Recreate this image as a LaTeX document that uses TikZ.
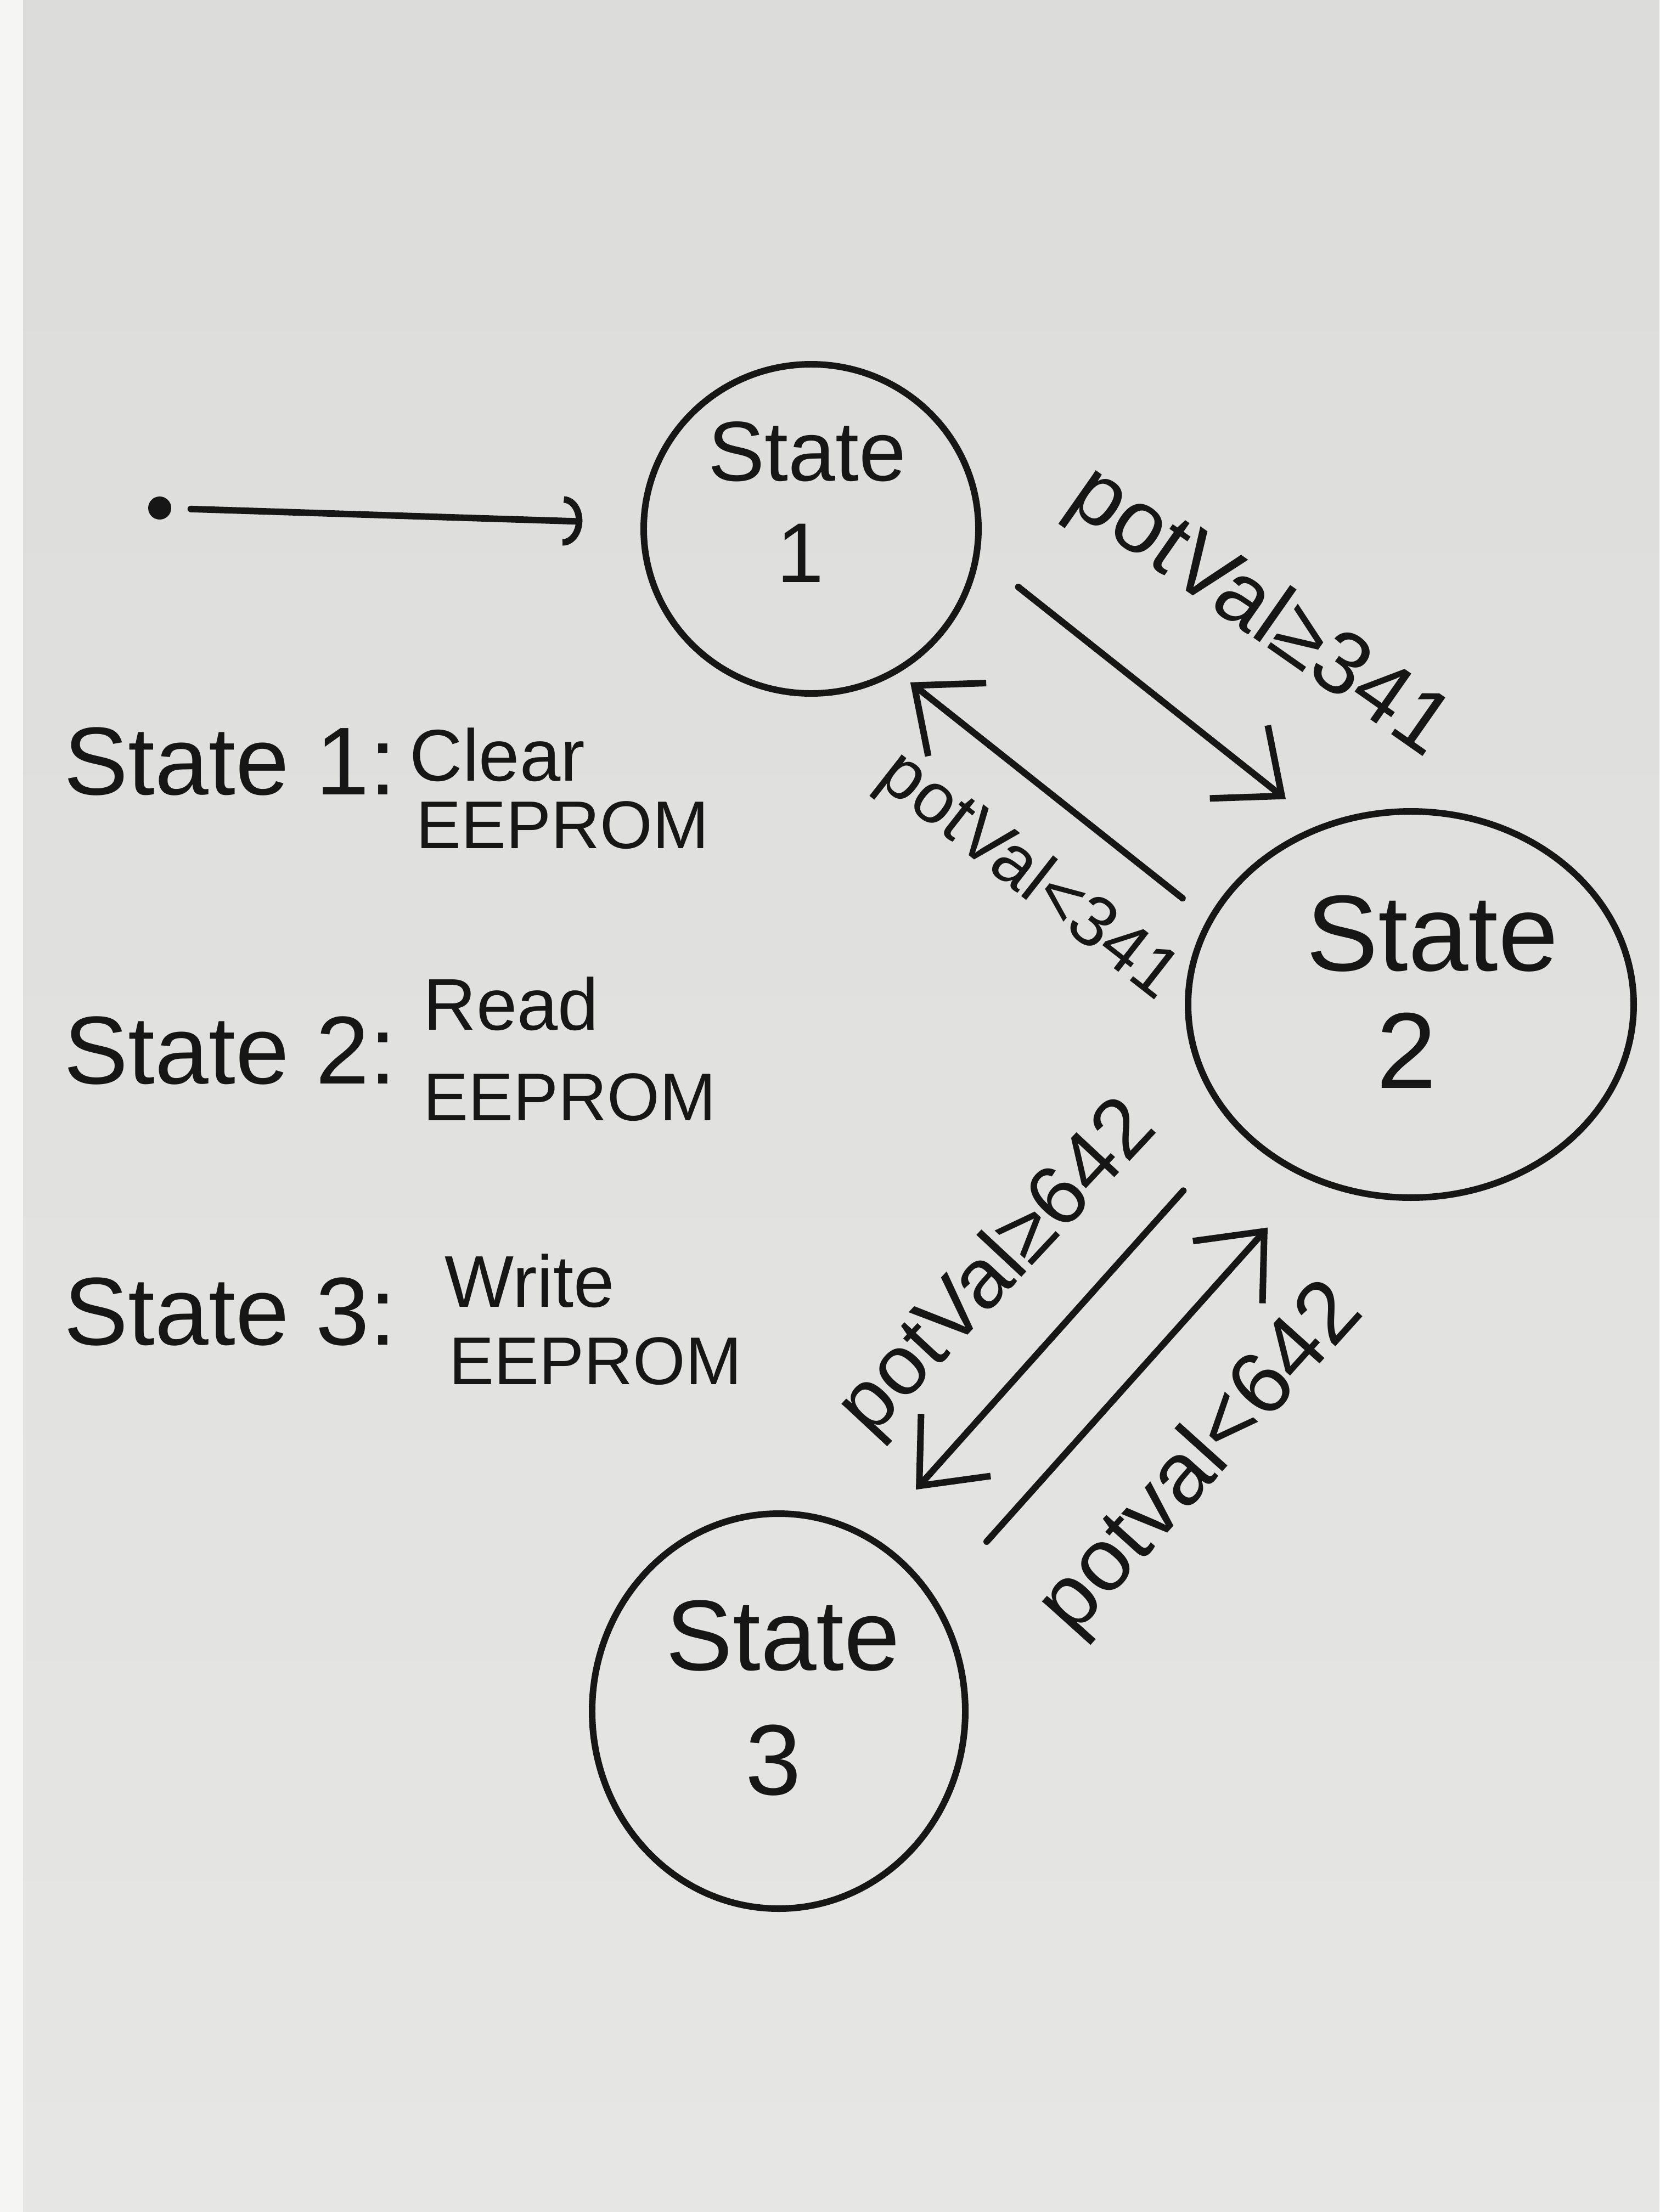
\documentclass[tikz,border=0pt]{standalone}
\usepackage{fontspec}
\setmainfont{Liberation Sans}
\usetikzlibrary{arrows.meta,shapes.geometric}
\definecolor{inkc}{HTML}{161616}
\definecolor{bgtop}{HTML}{DCDCDA}
\definecolor{bgbot}{HTML}{E6E6E4}
\begin{document}
\begin{tikzpicture}[x=1cm,y=1cm,
  ink/.style={draw=inkc, line width=3.4pt, line cap=round},
  st/.style={ellipse, draw=inkc, line width=3.4pt, inner sep=0pt},
  arr/.style={ink, -{Straight Barb[length=1.0cm,width=1.7cm,line width=3.4pt]}},
  txt/.style={text=inkc, inner sep=0pt},
  fa/.style={font=\fontsize{50}{60}\selectfont},
  fb/.style={font=\fontsize{38}{46}\selectfont},
  fc/.style={font=\fontsize{35}{42}\selectfont},
]
\shade[top color=bgtop, bottom color=bgbot] (0,0) rectangle (30.24,-40.32);
\fill[white!70!bgtop] (0,0) rectangle (0.42,-40.32);
\useasboundingbox (0,0) rectangle (30.24,-40.32);

% states
\node[st, minimum width=6.1cm, minimum height=6.0cm] (s1) at (14.78,-9.64) {};
\node[st, minimum width=8.12cm, minimum height=7.04cm] (s2) at (25.71,-18.31) {};
\node[st, minimum width=6.8cm, minimum height=7.2cm] (s3) at (14.19,-31.19) {};

\node[txt, font=\fontsize{44}{52}\selectfont] (s1a) at (14.71,-8.23) {State};
\node[txt, font=\fontsize{44}{52}\selectfont] (s1b) at (14.58,-10.08) {1};
\node[txt, font=\fontsize{56}{66}\selectfont] (s2a) at (26.10,-17.02) {State};
\node[txt, font=\fontsize{56}{66}\selectfont] (s2b) at (25.63,-19.15) {2};
\node[txt, font=\fontsize{52}{62}\selectfont] (s3a) at (14.27,-29.82) {State};
\node[txt, font=\fontsize{52}{62}\selectfont] (s3b) at (14.09,-32.09) {3};

% initial
\node[circle, fill=inkc, minimum size=0.42cm, inner sep=0pt] (init) at (2.91,-9.26) {};
\draw[ink, -{Arc Barb[length=0.35cm,width=0.9cm,line width=3.4pt]}, shorten <=0.35cm, shorten >=1.06cm] (init) -- (s1);

% transitions
\draw[arr, shorten <=3.62cm, shorten >=4.11cm] ([shift={(0.94,1.19)}]s1.center) -- ([shift={(0.94,1.19)}]s2.center);
\draw[arr, shorten <=4.47cm, shorten >=3.15cm] ([shift={(-0.66,-0.84)}]s2.center) -- ([shift={(-0.66,-0.84)}]s1.center);
\draw[arr, shorten <=5.29cm, shorten >=4.68cm] ([shift={(-0.62,0.55)}]s2.center) -- ([shift={(-0.62,0.55)}]s3.center);
\draw[arr, shorten <=4.83cm, shorten >=4.77cm] ([shift={(0.57,-0.51)}]s3.center) -- ([shift={(0.57,-0.51)}]s2.center);

% transition labels
\node[txt, rotate=-35, font=\fontsize{46}{54}\selectfont] (l1) at (22.93,-11.18) {potVal≥341};
\node[txt, rotate=-38, font=\fontsize{37}{44}\selectfont] (l2) at (18.72,-15.99) {potVal<341};
\node[txt, rotate=47, font=\fontsize{44}{52}\selectfont] (l3) at (18.20,-23.14) {potVal≥642};
\node[txt, rotate=48, font=\fontsize{46}{54}\selectfont] (l4) at (21.91,-26.61) {potval<642};

% legend
\node[txt, fa, anchor=west] (d1) at (1.16,-13.88) {State 1:};
\node[txt, fb, anchor=west] (d1a) at (7.46,-13.76) {Clear};
\node[txt, fc, anchor=west] (d1b) at (7.58,-15.04) {EEPROM};
\node[txt, fa, anchor=west] (d2) at (1.16,-19.15) {State 2:};
\node[txt, fb, anchor=west] (d2a) at (7.71,-18.30) {Read};
\node[txt, fc, anchor=west] (d2b) at (7.71,-20.00) {EEPROM};
\node[txt, fa, anchor=west] (d3) at (1.16,-23.91) {State 3:};
\node[txt, fb, anchor=west] (d3a) at (8.10,-23.35) {Write};
\node[txt, fc, anchor=west] (d3b) at (8.18,-24.81) {EEPROM};
\end{tikzpicture}
\end{document}
